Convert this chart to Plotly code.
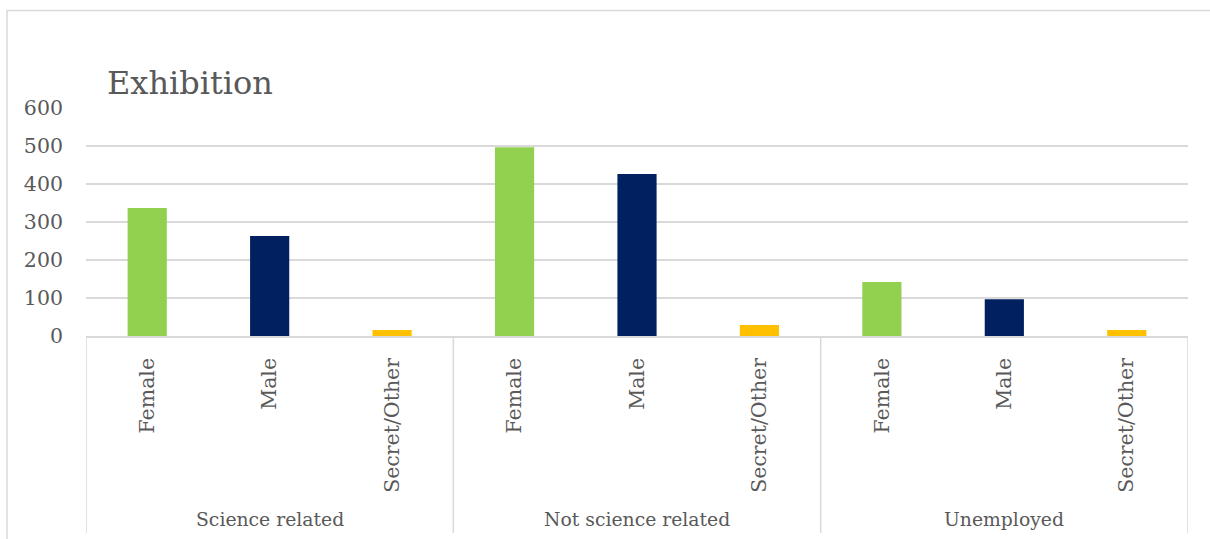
import plotly.graph_objects as go

# Employment groups and gender categories
groups = ["Science related", "Not science related", "Unemployed"]
genders = ["Female", "Male", "Secret/Other"]

# Exhibition visitors per group, one list per gender
female = [337, 497, 142]
male = [263, 426, 97]
other = [16, 29, 16]

colors = {"Female": "#92d050", "Male": "#002060", "Secret/Other": "#ffc000"}
values_by_gender = {"Female": female, "Male": male, "Secret/Other": other}

x_pos, y_val, bar_colors, tick_text = [], [], [], []
for gi, _ in enumerate(groups):
    for si, g in enumerate(genders):
        x_pos.append(gi * len(genders) + si)
        y_val.append(values_by_gender[g][gi])
        bar_colors.append(colors[g])
        tick_text.append(g)

FONT = "DejaVu Serif"
GREY = "#595959"
LINE = "#d9d9d9"

fig = go.Figure(
    go.Bar(
        x=x_pos,
        y=y_val,
        width=0.32,
        marker=dict(color=bar_colors, line=dict(width=0)),
        hoverinfo="x+y",
    )
)

# Plot-area geometry (pixels) used for paper-space decorations
W, H = 1210, 539
L, R, T, B = 86, 22, 108, 203
pw, ph = W - L - R, H - T - B


def px_x(p):
    return (p - L) / pw


def px_y(p):
    return (H - B - p) / ph


shapes = []
# category dividers below the axis
n = len(groups) * len(genders)
for k in range(len(groups) + 1):
    xv = k * len(genders) - 0.5
    shapes.append(dict(type="line", xref="x", yref="paper", x0=xv, x1=xv,
                       y0=0, y1=px_y(533), line=dict(color=LINE, width=1.5)))
# outer chart frame (runs past the right and bottom page edges)
shapes.append(dict(type="rect", xref="paper", yref="paper",
                   x0=px_x(7), x1=px_x(1240), y0=px_y(560), y1=px_y(10.5),
                   line=dict(color=LINE, width=1.5), fillcolor="rgba(0,0,0,0)",
                   layer="below"))

annotations = []
for gi, gname in enumerate(groups):
    annotations.append(dict(
        text=gname, x=gi * len(genders) + 1, xref="x",
        y=px_y(519), yref="paper", xanchor="center", yanchor="middle",
        showarrow=False, font=dict(family=FONT, size=18.8, color=GREY)))

fig.update_layout(
    width=W, height=H,
    margin=dict(l=L, r=R, t=T, b=B, pad=0),
    paper_bgcolor="white", plot_bgcolor="white",
    showlegend=False,
    title=dict(text="Exhibition", x=107 / W, xref="container", xanchor="left",
               y=1 - 83 / H, yref="container", yanchor="middle",
               font=dict(family=FONT, size=32, color=GREY)),
    font=dict(family=FONT, color=GREY),
    shapes=shapes,
    annotations=annotations,
)

fig.update_xaxes(
    range=[-0.5, n - 0.5],
    tickmode="array", tickvals=x_pos, ticktext=tick_text,
    tickangle=-90, ticks="", ticklabelstandoff=12,
    tickfont=dict(family=FONT, size=20.5, color=GREY),
    showgrid=False, zeroline=False,
    showline=True, linecolor=LINE, linewidth=1.5,
)
fig.update_yaxes(
    range=[0, 600], dtick=100, tick0=0,
    showgrid=True, gridcolor=LINE, gridwidth=1.5,
    zeroline=False, showline=False, ticks="",
    ticklabelstandoff=22,
    tickfont=dict(family=FONT, size=20.5, color=GREY),
)

fig.write_html("out.html")
